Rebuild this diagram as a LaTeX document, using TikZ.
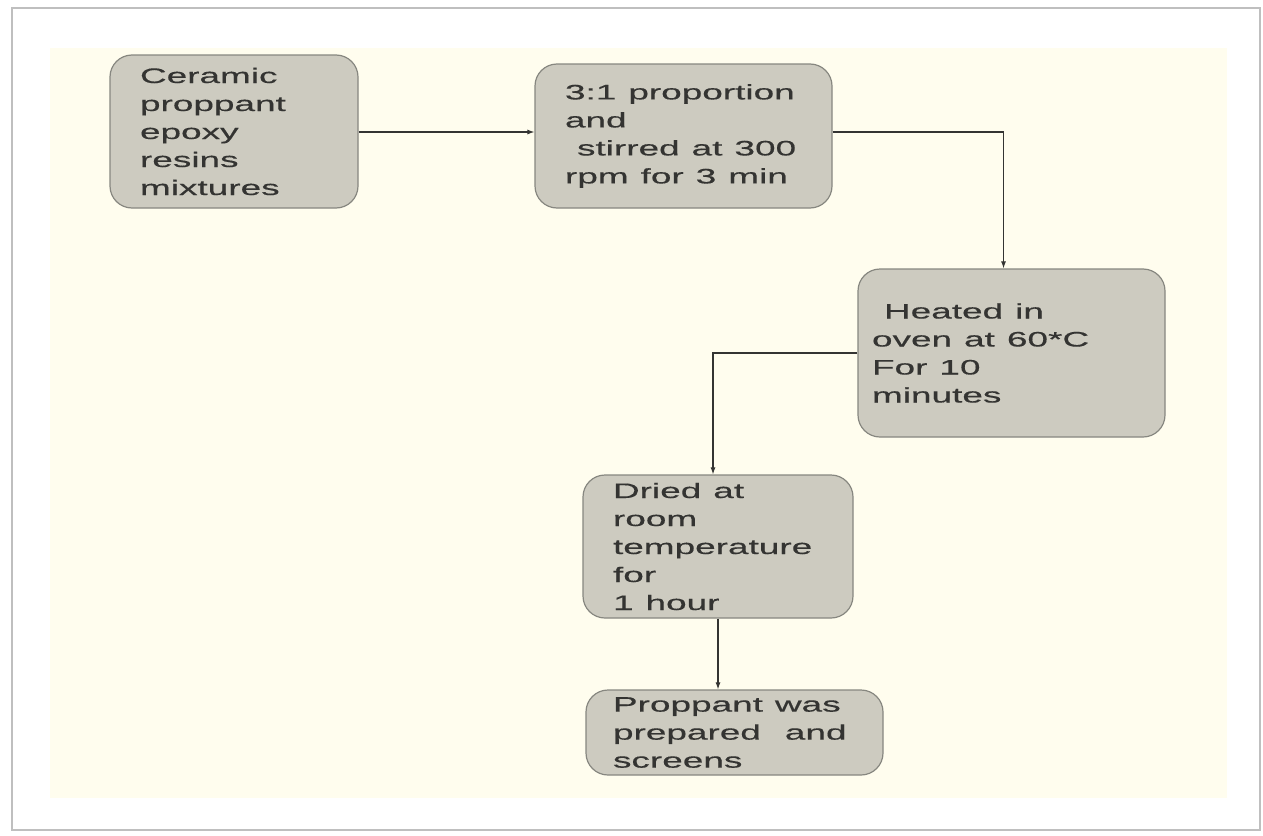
\documentclass[tikz,border=0pt]{standalone}
\usepackage{fontspec}
\setmainfont[FakeStretch=1.76, FakeBold=0.4]{Liberation Sans}
\usetikzlibrary{arrows.meta}

\definecolor{cream}{RGB}{255,253,238}
\definecolor{boxfill}{RGB}{205,203,192}
\definecolor{boxline}{RGB}{135,135,128}
\definecolor{ink}{RGB}{52,52,50}

\newcommand\stepfont{\fontsize{21}{28}\selectfont}

\tikzset{
  stepbox/.style={draw=boxline, fill=boxfill, line width=1.2pt,
    rounded corners=22pt, align=left, inner ysep=0pt, inner xsep=30pt,
    text=ink, font=\stepfont, execute at begin node={\spaceskip=12pt\xspaceskip=12pt\relax}},
  flow/.style={draw=ink, line width=1.1pt, -{Latex[length=7pt,width=5pt]}}
}

\begin{document}
\begin{tikzpicture}[x=1pt, y=-1pt]
    \useasboundingbox (0,0) rectangle (1263,835);
    % page and panel
    \fill[white] (0,0) rectangle (1263,835);
    \draw[black!25, line width=2pt] (12,8) rectangle (1260,830);
    \fill[cream] (50,48) rectangle (1227,798);

    % steps
    \node[stepbox, text width=188pt, minimum height=153pt] (mix) at (234,131.5)
        {Ceramic\\proppant\\epoxy\\resins\\mixtures};
    \node[stepbox, text width=237pt, minimum height=144pt] (stir) at (683.5,136)
        {3:1 proportion\\and\\\ stirred at 300\\rpm for 3 min};
    \node[stepbox, inner xsep=14pt, text width=279pt, minimum height=168pt] (heat) at (1011.5,353)
        {\ Heated in\\oven at 60*C\\For 10\\minutes};
    \node[stepbox, text width=210pt, minimum height=143pt] (dry) at (718,546.5)
        {Dried at\\room\\temperature\\for\\1 hour};
    \node[stepbox, inner xsep=27pt, text width=243pt, minimum height=85pt] (done) at (734.5,732.5)
        {Proppant was\\prepared\ \ and\\screens};

    % connectors
    \draw[flow] ([yshift=4pt]mix.east |- stir) -- ([yshift=4pt]stir.west);
    \draw[flow] ([yshift=4pt]stir.east) -| ([xshift=-8pt]heat.north);
    \draw[flow] (heat.west) -| ([xshift=-5pt]dry.north);
    \draw[flow] (dry.south) -- (dry.south |- done.north);
\end{tikzpicture}
\end{document}
